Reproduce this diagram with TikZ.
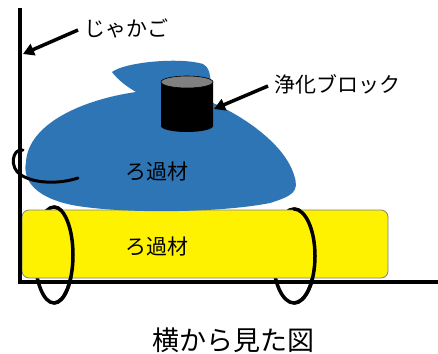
\documentclass[tikz,border=0pt]{standalone}
\usepackage{fontspec}
\setmainfont{Noto Sans CJK JP}
\usetikzlibrary{arrows.meta}
\definecolor{filterblue}{RGB}{46,117,182}
\definecolor{capgray}{RGB}{128,128,128}
\definecolor{padedge}{RGB}{120,130,140}
\begin{document}
\begin{tikzpicture}[x=1pt,y=-1pt,
  wire/.style={line width=3.5pt, line cap=round},
  pointer/.style={line width=3.5pt, -{Triangle[length=11pt,width=12pt]}},
  lbl/.style={inner sep=0pt, font=\fontsize{21}{24}\selectfont},
]
\useasboundingbox (0,0) rectangle (438,353);
\fill[white] (0,0) rectangle (438,353);

% wire rings, back halves
\draw[wire] (54,255) ellipse [x radius=19, y radius=48];
\draw[wire] (294,256) ellipse [x radius=21, y radius=47];

% lower filter pad
\node[draw=padedge, line width=0.8pt, fill=yellow, rounded corners=7pt,
      minimum width=366pt, minimum height=68pt, inner sep=0pt] (pad) at (205,244) {};

% wire rings, front halves
\draw[wire] (54,207) arc[start angle=-90, end angle=90, x radius=19, y radius=48];
\draw[wire] (294,209) arc[start angle=-90, end angle=90, x radius=21, y radius=47];

% upper filter mass
\fill[filterblue] (112,72) .. controls (125,62) and (180,57) .. (203,64)
  .. controls (215,70) and (208,92) .. (213,103)
  .. controls (245,117) and (285,145) .. (294,175)
  .. controls (300,192) and (292,196) .. (270,203)
  .. controls (220,213) and (120,214) .. (72,205)
  .. controls (38,198) and (22,182) .. (26,162)
  .. controls (28,125) and (80,100) .. (136,92)
  .. controls (126,86) and (118,80) .. (112,72) -- cycle;

% wall and floor
\coordinate (walltop) at (20,8);
\coordinate (corner) at (20,282);
\coordinate (floorend) at (438,282);
\draw[line width=4pt] (walltop) -- (corner) -- (floorend);

% curl of wire over the wall
\coordinate (curlstart) at (23,150);
\coordinate (curlend) at (78,178);
\draw[wire, line width=3pt] (curlstart) .. controls (12,148) and (9,168) .. (21,175)
  .. controls (35,184) and (60,184) .. (curlend);

% purification block (cylinder)
\fill[black] (161,82) -- (161,126) arc[start angle=180, end angle=0, x radius=26, y radius=6] -- (213,82) -- cycle;
\filldraw[fill=capgray, draw=black, line width=0.6pt] (187,82) ellipse [x radius=26, y radius=6];

% labels
\node[lbl] (jakago) at (126,28) {じゃかご};
\node[lbl] (blocklbl) at (337,84) {浄化ブロック};
\node[lbl] (upperlbl) at (157,172) {ろ過材};
\node[lbl] (lowerlbl) at (157,247) {ろ過材};
\node[inner sep=0pt, font=\fontsize{27}{30}\selectfont] (caption) at (233,340) {横から見た図};

% pointers
\coordinate (jtail) at (78,30);
\coordinate (jtip) at (23,54);
\draw[pointer] (jtail) -- (jtip);
\coordinate (btail) at (268,86);
\coordinate (btip) at (214,109);
\draw[pointer] (btail) -- (btip);
\end{tikzpicture}
\end{document}
